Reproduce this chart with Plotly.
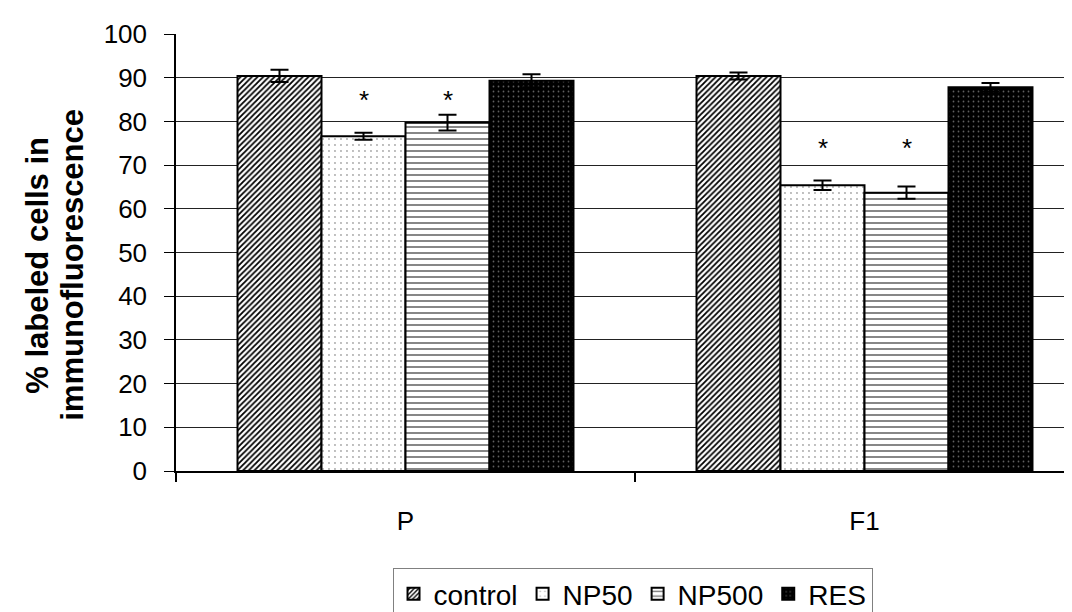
import plotly.graph_objects as go

categories = ["P", "F1"]
series_names = ["control", "NP50", "NP500", "RES"]
values = {
    "control": [90.4, 90.4],
    "NP50": [76.6, 65.4],
    "NP500": [79.7, 63.7],
    "RES": [89.3, 87.8],
}
errors = {
    "control": [1.4, 0.8],
    "NP50": [0.8, 1.1],
    "NP500": [1.8, 1.4],
    "RES": [1.5, 1.0],
}
# significance markers: (series, category index, y value)
star_series = ["NP50", "NP500", "NP50", "NP500"]
star_cat = [0, 0, 1, 1]
star_y = [85.8, 85.8, 74.8, 74.8]

y_ticks = list(range(0, 101, 10))
y_title_lines = ["% labeled cells in", "immunofluorescence"]

FONT = "Liberation Sans, Arial, sans-serif"

patterns = {
    "control": dict(shape="/", fgcolor="#000000", bgcolor="#ffffff", size=4, solidity=0.45),
    "NP50": dict(shape=".", fgcolor="#a8a8a8", bgcolor="#ffffff", size=6, solidity=0.08),
    "NP500": dict(shape="-", fgcolor="#707070", bgcolor="#ffffff", size=6, solidity=0.28),
    "RES": dict(shape=".", fgcolor="#606060", bgcolor="#000000", size=5, solidity=0.1),
}

bargap = 0.268
fig = go.Figure()
for name in series_names:
    fig.add_trace(go.Bar(
        name=name,
        x=categories,
        y=values[name],
        marker=dict(color=patterns[name]["bgcolor"],
                    line=dict(color="black", width=2),
                    pattern=dict(fillmode="replace", **patterns[name])),
        error_y=dict(type="data", array=errors[name], visible=True,
                     color="black", thickness=2, width=9),
    ))

bw = (1 - bargap) / len(series_names)
for s, c, yv in zip(star_series, star_cat, star_y):
    i = series_names.index(s)
    xoff = -(1 - bargap) / 2 + bw * (i + 0.5)
    fig.add_annotation(x=c + xoff, y=yv, xref="x", yref="y", text="*",
                       showarrow=False, yshift=-4,
                       font=dict(family=FONT, size=26, color="black"))

for line, xp in zip(y_title_lines, [-0.1527, -0.1139]):
    fig.add_annotation(xref="paper", yref="paper", x=xp, y=0.472,
                       text="<b>" + line + "</b>",
                       textangle=-90, showarrow=False,
                       font=dict(family=FONT, size=31, color="black"),
                       xanchor="center", yanchor="middle")

fig.update_layout(
    width=1072, height=612,
    margin=dict(l=168, r=0, t=26, b=149, autoexpand=False),
    paper_bgcolor="white", plot_bgcolor="white",
    barmode="group", bargap=bargap, bargroupgap=0,
    showlegend=True,
    legend=dict(orientation="h", x=0.505, xanchor="center",
                y=-0.222, yanchor="top",
                font=dict(family=FONT, size=28, color="black"),
                bordercolor="#808080", borderwidth=1,
                itemwidth=30, tracegroupgap=0),
    font=dict(family=FONT, size=26, color="black"),
)
fig.update_xaxes(type="category", range=[-0.5, 1.4695],
                 showline=True, linecolor="black", linewidth=1.5,
                 ticks="outside", tickson="boundaries", ticklen=9,
                 tickcolor="black", tickwidth=1.5,
                 ticklabelstandoff=26,
                 tickfont=dict(family=FONT, size=26, color="black"),
                 showgrid=False)
fig.update_yaxes(range=[0, 100], tickvals=y_ticks,
                 showline=True, linecolor="black", linewidth=1.5,
                 ticks="outside", ticklen=10, tickcolor="black", tickwidth=1,
                 ticklabelstandoff=12,
                 showgrid=True, gridcolor="#222222", gridwidth=1,
                 zeroline=False,
                 tickfont=dict(family=FONT, size=26, color="black"))

fig.write_html("out.html")
